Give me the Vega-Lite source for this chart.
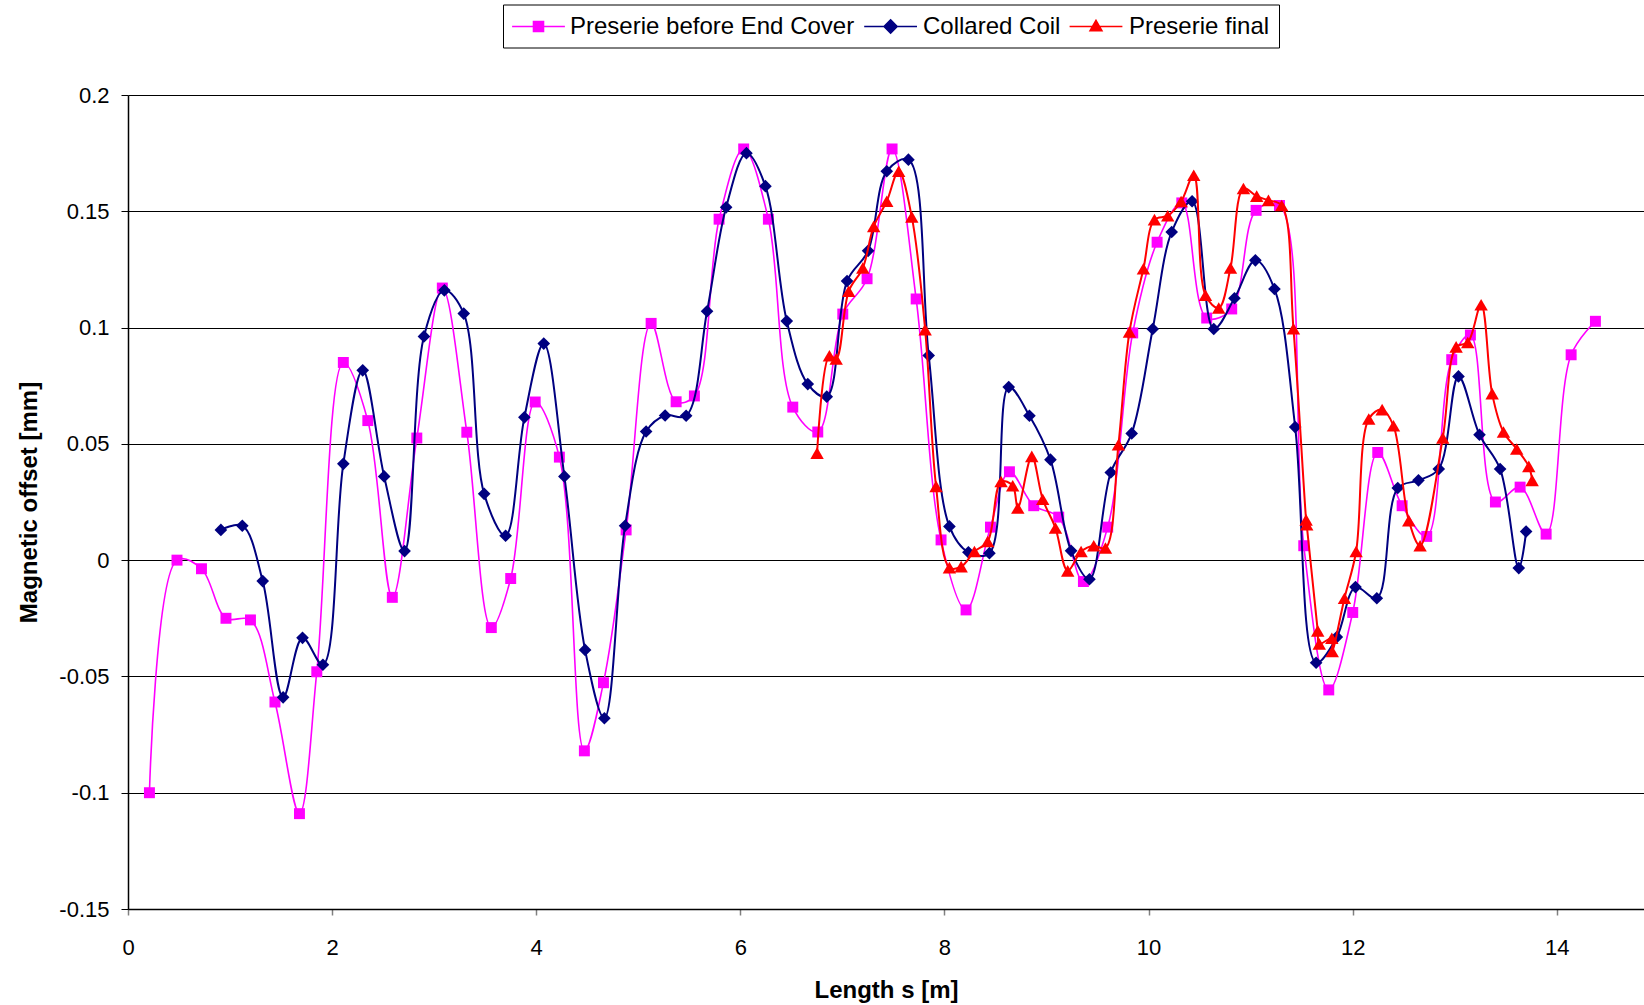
{
  "$schema": "https://vega.github.io/schema/vega-lite/v6.json",
  "width": 1516,
  "height": 814,
  "autosize": {"type": "none"},
  "padding": {"left": 128, "top": 95, "right": 0, "bottom": 96},
  "background": "white",
  "config": {"view": {"stroke": null}, "font": "Liberation Sans"},
  "datasets": {
    "pts": [
      {"series": "Preserie before End Cover", "s": 0.21, "v": -0.1},
      {"series": "Preserie before End Cover", "s": 0.48, "v": 0.0},
      {"series": "Preserie before End Cover", "s": 0.72, "v": -0.0037},
      {"series": "Preserie before End Cover", "s": 0.96, "v": -0.025},
      {"series": "Preserie before End Cover", "s": 1.2, "v": -0.0257},
      {"series": "Preserie before End Cover", "s": 1.44, "v": -0.061},
      {"series": "Preserie before End Cover", "s": 1.68, "v": -0.109},
      {"series": "Preserie before End Cover", "s": 1.85, "v": -0.048},
      {"series": "Preserie before End Cover", "s": 2.11, "v": 0.085},
      {"series": "Preserie before End Cover", "s": 2.35, "v": 0.06},
      {"series": "Preserie before End Cover", "s": 2.59, "v": -0.016},
      {"series": "Preserie before End Cover", "s": 2.83, "v": 0.0525},
      {"series": "Preserie before End Cover", "s": 3.08, "v": 0.117},
      {"series": "Preserie before End Cover", "s": 3.32, "v": 0.055},
      {"series": "Preserie before End Cover", "s": 3.56, "v": -0.029},
      {"series": "Preserie before End Cover", "s": 3.75, "v": -0.0079},
      {"series": "Preserie before End Cover", "s": 3.99, "v": 0.068},
      {"series": "Preserie before End Cover", "s": 4.227, "v": 0.0443},
      {"series": "Preserie before End Cover", "s": 4.472, "v": -0.082},
      {"series": "Preserie before End Cover", "s": 4.659, "v": -0.0527},
      {"series": "Preserie before End Cover", "s": 4.881, "v": 0.013},
      {"series": "Preserie before End Cover", "s": 5.126, "v": 0.1018},
      {"series": "Preserie before End Cover", "s": 5.371, "v": 0.0681},
      {"series": "Preserie before End Cover", "s": 5.55, "v": 0.0706},
      {"series": "Preserie before End Cover", "s": 5.792, "v": 0.1466},
      {"series": "Preserie before End Cover", "s": 6.033, "v": 0.1768},
      {"series": "Preserie before End Cover", "s": 6.275, "v": 0.1466},
      {"series": "Preserie before End Cover", "s": 6.514, "v": 0.0658},
      {"series": "Preserie before End Cover", "s": 6.759, "v": 0.0551},
      {"series": "Preserie before End Cover", "s": 7.004, "v": 0.1058},
      {"series": "Preserie before End Cover", "s": 7.242, "v": 0.121},
      {"series": "Preserie before End Cover", "s": 7.487, "v": 0.1768},
      {"series": "Preserie before End Cover", "s": 7.723, "v": 0.1123},
      {"series": "Preserie before End Cover", "s": 7.967, "v": 0.0087},
      {"series": "Preserie before End Cover", "s": 8.212, "v": -0.0214},
      {"series": "Preserie before End Cover", "s": 8.451, "v": 0.0142},
      {"series": "Preserie before End Cover", "s": 8.637, "v": 0.038},
      {"series": "Preserie before End Cover", "s": 8.875, "v": 0.0234},
      {"series": "Preserie before End Cover", "s": 9.12, "v": 0.0185},
      {"series": "Preserie before End Cover", "s": 9.362, "v": -0.0092},
      {"series": "Preserie before End Cover", "s": 9.6, "v": 0.0142},
      {"series": "Preserie before End Cover", "s": 9.845, "v": 0.0977},
      {"series": "Preserie before End Cover", "s": 10.084, "v": 0.1367},
      {"series": "Preserie before End Cover", "s": 10.326, "v": 0.1536},
      {"series": "Preserie before End Cover", "s": 10.57, "v": 0.1041},
      {"series": "Preserie before End Cover", "s": 10.815, "v": 0.108},
      {"series": "Preserie before End Cover", "s": 11.054, "v": 0.1504},
      {"series": "Preserie before End Cover", "s": 11.283, "v": 0.1525},
      {"series": "Preserie before End Cover", "s": 11.521, "v": 0.0062},
      {"series": "Preserie before End Cover", "s": 11.766, "v": -0.0558},
      {"series": "Preserie before End Cover", "s": 12.001, "v": -0.0225},
      {"series": "Preserie before End Cover", "s": 12.246, "v": 0.0463},
      {"series": "Preserie before End Cover", "s": 12.485, "v": 0.0234},
      {"series": "Preserie before End Cover", "s": 12.726, "v": 0.0102},
      {"series": "Preserie before End Cover", "s": 12.971, "v": 0.0862},
      {"series": "Preserie before End Cover", "s": 13.154, "v": 0.0968},
      {"series": "Preserie before End Cover", "s": 13.399, "v": 0.025},
      {"series": "Preserie before End Cover", "s": 13.641, "v": 0.0314},
      {"series": "Preserie before End Cover", "s": 13.896, "v": 0.0112},
      {"series": "Preserie before End Cover", "s": 14.141, "v": 0.0883},
      {"series": "Preserie before End Cover", "s": 14.379, "v": 0.1027},

      {"series": "Collared Coil", "s": 0.91, "v": 0.013},
      {"series": "Collared Coil", "s": 1.12, "v": 0.0148},
      {"series": "Collared Coil", "s": 1.32, "v": -0.009},
      {"series": "Collared Coil", "s": 1.52, "v": -0.059},
      {"series": "Collared Coil", "s": 1.71, "v": -0.0334},
      {"series": "Collared Coil", "s": 1.91, "v": -0.045},
      {"series": "Collared Coil", "s": 2.11, "v": 0.0414},
      {"series": "Collared Coil", "s": 2.3, "v": 0.0816},
      {"series": "Collared Coil", "s": 2.51, "v": 0.036},
      {"series": "Collared Coil", "s": 2.71, "v": 0.0039},
      {"series": "Collared Coil", "s": 2.9, "v": 0.0962},
      {"series": "Collared Coil", "s": 3.1, "v": 0.116},
      {"series": "Collared Coil", "s": 3.29, "v": 0.106},
      {"series": "Collared Coil", "s": 3.49, "v": 0.0285},
      {"series": "Collared Coil", "s": 3.7, "v": 0.0105},
      {"series": "Collared Coil", "s": 3.884, "v": 0.0614},
      {"series": "Collared Coil", "s": 4.074, "v": 0.0931},
      {"series": "Collared Coil", "s": 4.276, "v": 0.036},
      {"series": "Collared Coil", "s": 4.479, "v": -0.0386},
      {"series": "Collared Coil", "s": 4.668, "v": -0.068},
      {"series": "Collared Coil", "s": 4.871, "v": 0.0148},
      {"series": "Collared Coil", "s": 5.077, "v": 0.0553},
      {"series": "Collared Coil", "s": 5.263, "v": 0.0622},
      {"series": "Collared Coil", "s": 5.469, "v": 0.0621},
      {"series": "Collared Coil", "s": 5.674, "v": 0.107},
      {"series": "Collared Coil", "s": 5.861, "v": 0.1517},
      {"series": "Collared Coil", "s": 6.06, "v": 0.175},
      {"series": "Collared Coil", "s": 6.246, "v": 0.1608},
      {"series": "Collared Coil", "s": 6.455, "v": 0.1028},
      {"series": "Collared Coil", "s": 6.661, "v": 0.0757},
      {"series": "Collared Coil", "s": 6.847, "v": 0.0703},
      {"series": "Collared Coil", "s": 7.046, "v": 0.12},
      {"series": "Collared Coil", "s": 7.252, "v": 0.133},
      {"series": "Collared Coil", "s": 7.435, "v": 0.1672},
      {"series": "Collared Coil", "s": 7.647, "v": 0.1722},
      {"series": "Collared Coil", "s": 7.846, "v": 0.088},
      {"series": "Collared Coil", "s": 8.049, "v": 0.0145},
      {"series": "Collared Coil", "s": 8.235, "v": 0.0034},
      {"series": "Collared Coil", "s": 8.441, "v": 0.003},
      {"series": "Collared Coil", "s": 8.63, "v": 0.0744},
      {"series": "Collared Coil", "s": 8.833, "v": 0.0621},
      {"series": "Collared Coil", "s": 9.039, "v": 0.0432},
      {"series": "Collared Coil", "s": 9.241, "v": 0.004},
      {"series": "Collared Coil", "s": 9.421, "v": -0.0082},
      {"series": "Collared Coil", "s": 9.63, "v": 0.0377},
      {"series": "Collared Coil", "s": 9.835, "v": 0.0545},
      {"series": "Collared Coil", "s": 10.041, "v": 0.0994},
      {"series": "Collared Coil", "s": 10.227, "v": 0.1411},
      {"series": "Collared Coil", "s": 10.427, "v": 0.1543},
      {"series": "Collared Coil", "s": 10.639, "v": 0.0994},
      {"series": "Collared Coil", "s": 10.842, "v": 0.1126},
      {"series": "Collared Coil", "s": 11.047, "v": 0.1289},
      {"series": "Collared Coil", "s": 11.234, "v": 0.1166},
      {"series": "Collared Coil", "s": 11.437, "v": 0.0572},
      {"series": "Collared Coil", "s": 11.642, "v": -0.0441},
      {"series": "Collared Coil", "s": 11.845, "v": -0.0331},
      {"series": "Collared Coil", "s": 12.028, "v": -0.0116},
      {"series": "Collared Coil", "s": 12.237, "v": -0.0164},
      {"series": "Collared Coil", "s": 12.442, "v": 0.031},
      {"series": "Collared Coil", "s": 12.645, "v": 0.0343},
      {"series": "Collared Coil", "s": 12.844, "v": 0.0392},
      {"series": "Collared Coil", "s": 13.037, "v": 0.079},
      {"series": "Collared Coil", "s": 13.243, "v": 0.0539},
      {"series": "Collared Coil", "s": 13.445, "v": 0.0392},
      {"series": "Collared Coil", "s": 13.628, "v": -0.0034},
      {"series": "Collared Coil", "s": 13.7, "v": 0.0123},

      {"series": "Preserie final", "s": 6.752, "v": 0.046},
      {"series": "Preserie final", "s": 6.873, "v": 0.0879},
      {"series": "Preserie final", "s": 6.939, "v": 0.0865},
      {"series": "Preserie final", "s": 7.062, "v": 0.1156},
      {"series": "Preserie final", "s": 7.2, "v": 0.1256},
      {"series": "Preserie final", "s": 7.307, "v": 0.1435},
      {"series": "Preserie final", "s": 7.435, "v": 0.1543},
      {"series": "Preserie final", "s": 7.552, "v": 0.1672},
      {"series": "Preserie final", "s": 7.68, "v": 0.1476},
      {"series": "Preserie final", "s": 7.811, "v": 0.0991},
      {"series": "Preserie final", "s": 7.918, "v": 0.0317},
      {"series": "Preserie final", "s": 8.049, "v": -0.0032},
      {"series": "Preserie final", "s": 8.164, "v": -0.0028},
      {"series": "Preserie final", "s": 8.294, "v": 0.0037},
      {"series": "Preserie final", "s": 8.424, "v": 0.008},
      {"series": "Preserie final", "s": 8.555, "v": 0.0338},
      {"series": "Preserie final", "s": 8.669, "v": 0.032},
      {"series": "Preserie final", "s": 8.719, "v": 0.0224},
      {"series": "Preserie final", "s": 8.856, "v": 0.0446},
      {"series": "Preserie final", "s": 8.963, "v": 0.0262},
      {"series": "Preserie final", "s": 9.088, "v": 0.0138},
      {"series": "Preserie final", "s": 9.208, "v": -0.0046},
      {"series": "Preserie final", "s": 9.339, "v": 0.0037},
      {"series": "Preserie final", "s": 9.463, "v": 0.0062},
      {"series": "Preserie final", "s": 9.578, "v": 0.0052},
      {"series": "Preserie final", "s": 9.705, "v": 0.0496},
      {"series": "Preserie final", "s": 9.813, "v": 0.0981},
      {"series": "Preserie final", "s": 9.95, "v": 0.1253},
      {"series": "Preserie final", "s": 10.058, "v": 0.1464},
      {"series": "Preserie final", "s": 10.188, "v": 0.1481},
      {"series": "Preserie final", "s": 10.319, "v": 0.1542},
      {"series": "Preserie final", "s": 10.443, "v": 0.1655},
      {"series": "Preserie final", "s": 10.558, "v": 0.1139},
      {"series": "Preserie final", "s": 10.688, "v": 0.1084},
      {"series": "Preserie final", "s": 10.803, "v": 0.1256},
      {"series": "Preserie final", "s": 10.93, "v": 0.1598},
      {"series": "Preserie final", "s": 11.06, "v": 0.1565},
      {"series": "Preserie final", "s": 11.175, "v": 0.1547},
      {"series": "Preserie final", "s": 11.305, "v": 0.1525},
      {"series": "Preserie final", "s": 11.42, "v": 0.0995},
      {"series": "Preserie final", "s": 11.544, "v": 0.0173},
      {"series": "Preserie final", "s": 11.55, "v": 0.0152},
      {"series": "Preserie final", "s": 11.658, "v": -0.0304},
      {"series": "Preserie final", "s": 11.673, "v": -0.036},
      {"series": "Preserie final", "s": 11.796, "v": -0.0336},
      {"series": "Preserie final", "s": 11.8, "v": -0.0393},
      {"series": "Preserie final", "s": 11.92, "v": -0.0164},
      {"series": "Preserie final", "s": 12.034, "v": 0.0037},
      {"series": "Preserie final", "s": 12.158, "v": 0.0607},
      {"series": "Preserie final", "s": 12.289, "v": 0.0647},
      {"series": "Preserie final", "s": 12.4, "v": 0.0578},
      {"series": "Preserie final", "s": 12.55, "v": 0.017},
      {"series": "Preserie final", "s": 12.661, "v": 0.0062},
      {"series": "Preserie final", "s": 12.883, "v": 0.0525},
      {"series": "Preserie final", "s": 13.014, "v": 0.0917},
      {"series": "Preserie final", "s": 13.128, "v": 0.0936},
      {"series": "Preserie final", "s": 13.259, "v": 0.1098},
      {"series": "Preserie final", "s": 13.367, "v": 0.0716},
      {"series": "Preserie final", "s": 13.478, "v": 0.0551},
      {"series": "Preserie final", "s": 13.608, "v": 0.0478},
      {"series": "Preserie final", "s": 13.726, "v": 0.0403},
      {"series": "Preserie final", "s": 13.759, "v": 0.0343}
    ]
  },
  "data": {"name": "pts"},
  "encoding": {
    "x": {
      "field": "s",
      "type": "quantitative",
      "scale": {"domain": [0, 14.855], "nice": false, "zero": false},
      "axis": {
        "title": "Length s [m]",
        "values": [0, 2, 4, 6, 8, 10, 12, 14],
        "grid": false,
        "labelFlush": false,
        "domainColor": "black",
        "domainWidth": 1.5,
        "tickColor": "#808080",
        "tickWidth": 1.5,
        "tickSize": 6,
        "labelFont": "Liberation Sans",
        "labelFontSize": 22,
        "labelColor": "black",
        "labelPadding": 22,
        "titleFont": "Liberation Sans",
        "titleFontSize": 24,
        "titleFontWeight": "bold",
        "titleColor": "black",
        "titlePadding": 20
      }
    },
    "y": {
      "field": "v",
      "type": "quantitative",
      "scale": {"domain": [-0.15, 0.2], "nice": false, "zero": false},
      "axis": {
        "title": "Magnetic offset [mm]",
        "values": [-0.15, -0.1, -0.05, 0, 0.05, 0.1, 0.15, 0.2],
        "labelExpr": "'' + datum.value",
        "grid": true,
        "gridColor": "black",
        "gridWidth": 1,
        "labelFlush": false,
        "domainColor": "black",
        "domainWidth": 1.5,
        "tickColor": "black",
        "tickWidth": 1,
        "tickSize": 7,
        "labelFont": "Liberation Sans",
        "labelFontSize": 22,
        "labelColor": "black",
        "labelPadding": 12,
        "titleFont": "Liberation Sans",
        "titleFontSize": 24,
        "titleFontWeight": "bold",
        "titleColor": "black",
        "titlePadding": 17
      }
    }
  },
  "resolve": {"legend": {"color": "independent"}},
  "layer": [
    {
      "transform": [{"filter": "datum.series === 'Preserie before End Cover'"}],
      "mark": {"type": "line", "interpolate": "catmull-rom", "strokeWidth": 1.6},
      "encoding": {
        "order": {"value": null},
        "color": {
          "field": "series", "type": "nominal",
          "scale": {"domain": ["Preserie before End Cover", "Collared Coil", "Preserie final"], "range": ["#FF00FF", "#000080", "#FF0000"]},
          "legend": {
            "title": null,
            "orient": "none",
            "legendX": 375,
            "legendY": -90.5,
            "direction": "horizontal",
            "values": ["Preserie before End Cover", "Collared Coil", "Preserie final"],
            "labelExpr": "datum.label === 'Preserie final' ? '\u00a0' + datum.label : datum.label",
            "symbolType": "circle",
            "symbolSize": 576,
            "symbolOffset": 13.5,
            "symbolStrokeWidth": 1.5,
            "symbolOpacity": 0,
            "labelOffset": 18.5,
            "labelFont": "Liberation Sans",
            "labelFontSize": 24,
            "labelColor": "black",
            "labelLimit": 500,
            "columnPadding": 10,
            "padding": 9,
            "strokeColor": "black",
            "fillColor": "white"
          }
        }
      }
    },
    {
      "transform": [{"filter": "datum.series === 'Preserie before End Cover'"}],
      "mark": {"type": "point", "shape": "square", "filled": true, "opacity": 1, "size": 120},
      "encoding": {
        "color": {
          "field": "series", "type": "nominal",
          "scale": {"domain": ["Preserie before End Cover", "Collared Coil", "Preserie final"], "range": ["#FF00FF", "#000080", "#FF0000"]},
          "legend": {
            "title": null,
            "orient": "none",
            "legendX": 397.5,
            "legendY": -81.5,
            "values": ["Preserie before End Cover"],
            "symbolType": "M-2.2,0H2.2M-0.42,-0.42H0.42V0.42H-0.42Z",
            "symbolSize": 576,
            "symbolStrokeWidth": 1.5,
            "symbolStrokeColor": "#FF00FF",
            "symbolOpacity": 1,
            "labelExpr": "''",
            "labelFontSize": 24,
            "labelOffset": 0,
            "padding": 0
          }
        }
      }
    },
    {
      "transform": [{"filter": "datum.series === 'Collared Coil'"}],
      "mark": {"type": "line", "interpolate": "catmull-rom", "strokeWidth": 2},
      "encoding": {
        "order": {"value": null},
        "color": {
          "field": "series", "type": "nominal",
          "scale": {"domain": ["Preserie before End Cover", "Collared Coil", "Preserie final"], "range": ["#FF00FF", "#000080", "#FF0000"]},
          "legend": null
        }
      }
    },
    {
      "transform": [{"filter": "datum.series === 'Collared Coil'"}],
      "mark": {"type": "point", "shape": "diamond", "filled": true, "opacity": 1, "size": 160},
      "encoding": {
        "color": {
          "field": "series", "type": "nominal",
          "scale": {"domain": ["Preserie before End Cover", "Collared Coil", "Preserie final"], "range": ["#FF00FF", "#000080", "#FF0000"]},
          "legend": {
            "title": null,
            "orient": "none",
            "legendX": 749.6,
            "legendY": -81.5,
            "values": ["Collared Coil"],
            "symbolType": "M-2.2,0H2.2M0,-0.55L0.55,0L0,0.55L-0.55,0Z",
            "symbolSize": 576,
            "symbolStrokeWidth": 1.5,
            "symbolStrokeColor": "#000080",
            "symbolOpacity": 1,
            "labelExpr": "''",
            "labelFontSize": 24,
            "labelOffset": 0,
            "padding": 0
          }
        }
      }
    },
    {
      "transform": [{"filter": "datum.series === 'Preserie final'"}],
      "mark": {"type": "line", "interpolate": "catmull-rom", "strokeWidth": 2},
      "encoding": {
        "order": {"value": null},
        "color": {
          "field": "series", "type": "nominal",
          "scale": {"domain": ["Preserie before End Cover", "Collared Coil", "Preserie final"], "range": ["#FF00FF", "#000080", "#FF0000"]},
          "legend": null
        }
      }
    },
    {
      "transform": [{"filter": "datum.series === 'Preserie final'"}],
      "mark": {"type": "point", "shape": "triangle-up", "filled": true, "opacity": 1, "size": 180},
      "encoding": {
        "color": {
          "field": "series", "type": "nominal",
          "scale": {"domain": ["Preserie before End Cover", "Collared Coil", "Preserie final"], "range": ["#FF00FF", "#000080", "#FF0000"]},
          "legend": {
            "title": null,
            "orient": "none",
            "legendX": 955,
            "legendY": -81.5,
            "values": ["Preserie final"],
            "symbolType": "M-2.2,0H2.2M0,-0.52L0.5,0.36L-0.5,0.36Z",
            "symbolSize": 576,
            "symbolStrokeWidth": 1.5,
            "symbolStrokeColor": "#FF0000",
            "symbolOpacity": 1,
            "labelExpr": "''",
            "labelFontSize": 24,
            "labelOffset": 0,
            "padding": 0
          }
        }
      }
    }
  ]
}
